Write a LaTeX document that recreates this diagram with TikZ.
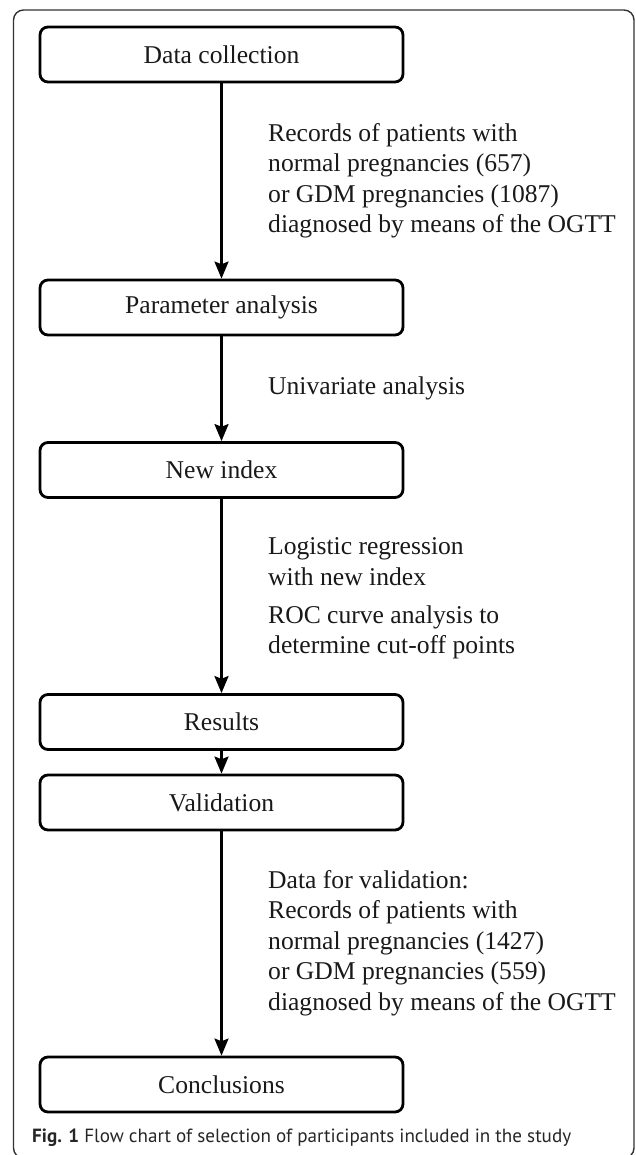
\documentclass[tikz,border=0pt]{standalone}
\usepackage{fontspec}
\setmainfont{Liberation Serif}
\newfontfamily\capfont{PT Sans}
\usetikzlibrary{arrows.meta}

\begin{document}
\begin{tikzpicture}[->,>={Stealth[length=8.5pt,width=7pt,inset=1.3pt]},line width=1.2pt,x=0.5pt,y=-0.5pt,
	box node/.style={rectangle,rounded corners=4pt,draw,line width=1.4pt,minimum width=181.5pt,minimum height=27.5pt,inner sep=0pt},
	note node/.style={anchor=west,align=left,inner sep=0pt}]
	\tikzstyle{every node}=[font=\fontsize{12.8}{15.25}\selectfont,text=black!90]
	\useasboundingbox (0,0) rectangle (636,1155);
	\draw[-,black!80,line width=0.7pt,rounded corners=5pt] (13.5,10) rectangle (634,1158);
	\draw[-]
		(221.5,54.5) node[box node](a) {Data collection}
		(221.5,307.5) node[box node](b) {Parameter analysis}
		(221.5,470) node[box node](c) {New index}
		(221.5,722) node[box node](d) {Results}
		(221.5,802.5) node[box node](e) {Validation}
		(221.5,1084.5) node[box node](f) {Conclusions};
	\draw[-]
		(267,181) node[note node](na) {Records of patients with\\normal pregnancies (657)\\or GDM pregnancies (1087)\\diagnosed by means of the OGTT}
		(267,388) node[note node](nb) {Univariate analysis}
		(267,598.5) node[note node](nc) {Logistic regression\\with new index\\[3.75pt]ROC curve analysis to\\determine cut-off points}
		(267,943) node[note node](nd) {Data for validation:\\Records of patients with\\normal pregnancies (1427)\\or GDM pregnancies (559)\\diagnosed by means of the OGTT}
		(31,1138) node[anchor=west,inner sep=0pt,font=\capfont\fontsize{9.55}{11}\selectfont,text=black!85](cap) {\textbf{Fig. 1} Flow chart of selection of participants included in the study};
	\draw (a) to (b);
	\draw (b) to (c);
	\draw (c) to (d);
	\draw (d) to (e);
	\draw (e) to (f);
\end{tikzpicture}
\end{document}
